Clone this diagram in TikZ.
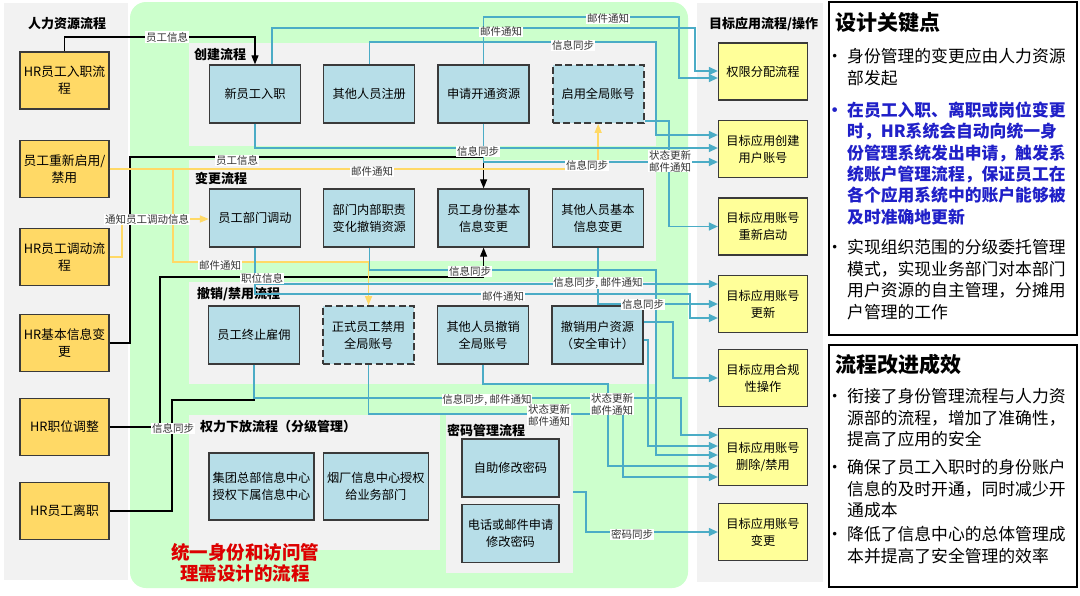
\documentclass[tikz,border=0pt]{standalone}
\usepackage{fontspec}
\setmainfont{Noto Sans CJK SC}
\usepackage{xcolor}
\usetikzlibrary{arrows.meta,positioning,calc}
\definecolor{hrgold}{HTML}{FFD966}
\definecolor{appyellow}{HTML}{FFFF99}
\definecolor{procblue}{HTML}{B7DEE8}
\definecolor{linkblue}{HTML}{4BACC6}
\definecolor{zonegreen}{HTML}{CCFFCC}
\definecolor{panelgray}{HTML}{F2F2F2}
\definecolor{edgegray}{HTML}{3A3A3A}
\definecolor{keyblue}{HTML}{2020C8}
\definecolor{titlered}{HTML}{DD0000}
\tikzset{
    hrbox/.style={rectangle, draw=edgegray, fill=hrgold, line width=1.3pt,
        minimum width=89pt, minimum height=57pt, inner sep=1pt,
        align=center, font=\fontsize{12.8}{17}\selectfont},
    procbox/.style={rectangle, draw=edgegray, fill=procblue, line width=1.3pt,
        minimum width=91pt, minimum height=58pt, inner sep=1pt,
        align=center, font=\fontsize{12.2}{17}\selectfont},
    globalbox/.style={procbox, dash pattern=on 7pt off 3.5pt, line width=1.8pt},
    appbox/.style={rectangle, draw=edgegray, fill=appyellow, line width=1.3pt,
        minimum width=89pt, minimum height=57pt, inner sep=1pt,
        align=center, font=\fontsize{12.2}{17}\selectfont},
    zonetitle/.style={anchor=west, inner sep=0pt, font=\fontsize{13}{15}\selectfont\bfseries},
    bluelink/.style={draw=linkblue, line width=1.3pt},
    bluearrow/.style={bluelink, -{Triangle[length=9pt,width=8pt]}},
    goldlink/.style={draw=hrgold, line width=1.4pt},
    goldarrow/.style={goldlink, -{Triangle[length=9pt,width=7pt]}},
    blacklink/.style={draw=black, line width=1.1pt},
    blackarrow/.style={blacklink, -{Triangle[length=9pt,width=7pt]}},
    linklabel/.style={fill=white, inner sep=0.6pt, align=center, text=black!80,
        font=\fontsize{10.5}{12}\selectfont},
    notetitle/.style={anchor=west, inner sep=0pt, font=\fontsize{21}{24}\selectfont\bfseries},
    notetext/.style={anchor=north west, inner sep=0pt, text width=228pt, align=left,
        font=\fontsize{16.8}{21.4}\selectfont},
}
\newcommand{\notedot}{\llap{•\hspace{4pt}}}

\begin{document}
\begin{tikzpicture}[x=1pt, y=-1pt, node distance=22pt]

    % ── Canvas ─────────────────────────────────────────────────────────────
    \useasboundingbox (0,0) rectangle (1080,595);
    \fill[white] (0,0) rectangle (1080,595);

    % ── Columns and process zones ──────────────────────────────────────────
    \fill[panelgray] (4,3) rectangle (128,580);
    \fill[panelgray] (697,3) rectangle (823,582);
    \fill[zonegreen, rounded corners=16pt] (130,2) rectangle (688,588);
    \fill[panelgray] (189,43) rectangle (656,146);
    \fill[panelgray] (189,160) rectangle (656,261);
    \fill[panelgray] (189,282) rectangle (656,384);
    \fill[panelgray] (189,415) rectangle (440,550);
    \fill[panelgray] (446,415) rectangle (573,573);
    \coordinate (pwdout) at (573,492);

    \node[zonetitle] (hrtitle) at (28,24) {人力资源流程};
    \node[zonetitle] (apptitle) at (709,24) {目标应用流程/操作};
    \node[zonetitle] (createtitle) at (194,55) {创建流程};
    \node[zonetitle] (changetitle) at (195,178) {变更流程};
    \node[zonetitle] (revoketitle) at (197,294) {撤销/禁用流程};
    \node[zonetitle] (delegtitle) at (200,427) {权力下放流程（分级管理）};
    \node[zonetitle] (pwdtitle) at (447,430) {密码管理流程};
    \node[font=\fontsize{18.5}{21.5}\selectfont\bfseries, text=titlered, align=center]
        (zonename) at (245,563) {统一身份和访问管\\理需设计的流程};

    % ── HR processes ───────────────────────────────────────────────────────
    \node[hrbox] (hrjoin)   at (64.5,80.5) {HR员工入职流\\程};
    \node[hrbox] (reenable) at (64.5,169)  {员工重新启用/\\禁用};
    \node[hrbox] (hrmove)   at (64.5,257)  {HR员工调动流\\程};
    \node[hrbox] (hrbasic)  at (64.5,343)  {HR基本信息变\\更};
    \node[hrbox] (hrpos)    at (64.5,427)  {HR职位调整};
    \node[hrbox] (hrleave)  at (64.5,511)  {HR员工离职};

    % ── Create ─────────────────────────────────────────────────────────────
    \node[procbox] (nstart) at (255,94) {新员工入职};
    \node[procbox, right=of nstart] (otherreg) {其他人员注册};
    \node[procbox, right=of otherreg] (apply) {申请开通资源};
    \node[globalbox, right=of apply] (enable) {启用全局账号};

    % ── Change ─────────────────────────────────────────────────────────────
    \node[procbox] (dept) at (255,218) {员工部门调动};
    \node[procbox, right=of dept] (dutychg) {部门内部职责\\变化撤销资源};
    \node[procbox, right=of dutychg] (idinfo) {员工身份基本\\信息变更};
    \node[procbox, right=of idinfo] (othinfo) {其他人员基本\\信息变更};

    % ── Revoke / disable ───────────────────────────────────────────────────
    \node[procbox] (term) at (254,335) {员工终止雇佣};
    \node[globalbox, right=of term] (fdisable) {正式员工禁用\\全局账号};
    \node[procbox, right=of fdisable] (orevoke) {其他人员撤销\\全局账号};
    \node[procbox, right=of orevoke] (revres) {撤销用户资源\\（安全审计）};

    % ── Delegation and password ────────────────────────────────────────────
    \node[procbox, minimum width=105pt, minimum height=67pt] (groupauth) at (261.5,486.5)
        {集团总部信息中心\\授权下属信息中心};
    \node[procbox, minimum width=105pt, minimum height=67pt, right=8pt of groupauth] (plantauth)
        {烟厂信息中心授权\\给业务部门};
    \node[procbox, minimum width=97pt] (selfpwd) at (510.5,468) {自助修改密码};
    \node[procbox, minimum width=97pt, below=6pt of selfpwd] (askpwd) {电话或邮件申请\\修改密码};

    % ── Target applications ────────────────────────────────────────────────
    \node[appbox] (perm)    at (763,71.5)  {权限分配流程};
    \node[appbox] (create)  at (763,149)   {目标应用创建\\用户账号};
    \node[appbox] (restart) at (763,226.5) {目标应用账号\\重新启动};
    \node[appbox] (upd)     at (763,304)   {目标应用账号\\更新};
    \node[appbox] (comp)    at (763,378)   {目标应用合规\\性操作};
    \node[appbox] (del)     at (763,457)   {目标应用账号\\删除/禁用};
    \node[appbox] (change)  at (763,532)   {目标应用账号\\变更};

    % ── HR links ───────────────────────────────────────────────────────────
    \draw[blackarrow] (hrjoin.north) |- (nstart.north |- 0,37) -- (nstart.north);
    \draw[blackarrow] (hrbasic.east) -| (130,157) -- (idinfo.north |- 0,157) -- (idinfo.north);
    \draw[blackarrow] (hrpos.east) -| (160,277) -- (idinfo.south |- 0,277) -- (idinfo.south);
    \draw[blacklink]  (hrleave.east) -| (172,400) -- (term.south |- 0,400) -- (term.south);
    \draw[goldarrow]  (reenable.east) -- (enable.south |- 0,169) -- (enable.south);
    \draw[goldarrow]  (reenable.east) -| (173,262) -- (fdisable.north |- 0,262) -- (fdisable.north);
    \draw[goldarrow]  (hrmove.east) -| (122,219) -- (dept.west |- 0,219);

    % ── Links to target applications ───────────────────────────────────────
    \draw[bluearrow] ([xshift=17pt]nstart.north) |- (695,28) |- (perm.west |- 0,71);
    \draw[bluearrow] (apply.north) |- (679,17) |- (perm.west |- 0,78);
    \draw[bluearrow] (otherreg.north) |- (656,42) |- (create.west |- 0,135);
    \draw[bluearrow] (nstart.south) |- (create.west |- 0,148);
    \draw[bluearrow] (apply.south) |- (create.west |- 0,162);
    \draw[bluearrow] (enable.east |- 0,121) -- (669,121) |- (restart.west);
    \draw[bluearrow] (dept.south) |- (upd.west |- 0,284);
    \draw[bluearrow] (dept.south) |- (690,294) |- (upd.west |- 0,318);
    \draw[bluearrow] (othinfo.south) |- (upd.west |- 0,304);
    \draw[bluearrow] (dutychg.south) |- (656,270) |- (del.west |- 0,455);
    \draw[bluearrow] (revres.east |- 0,322) -- (673,322) |- (comp.west);
    \draw[bluearrow] (revres.east |- 0,340) -- (648,340) |- (del.west |- 0,446);
    \draw[bluearrow] (term.south) |- (681,398) |- (del.west |- 0,435);
    \draw[bluearrow] (orevoke.south) |- (608,384) |- (del.west |- 0,466);
    \draw[bluearrow] (fdisable.south) |- (623,414) |- (del.west |- 0,477);
    \draw[bluearrow] (pwdout) -- (586,492) |- (change.west);

    % ── Link labels ────────────────────────────────────────────────────────
    \node[linklabel] (lbjoin)    at (167,37)  {员工信息};
    \node[linklabel] (lbmail1)   at (501,32)  {邮件通知};
    \node[linklabel] (lbmail2)   at (608,19)  {邮件通知};
    \node[linklabel] (lbsync1)   at (573,45)  {信息同步};
    \node[linklabel] (lbsync2)   at (478,151) {信息同步};
    \node[linklabel] (lbbasic)   at (237,160) {员工信息};
    \node[linklabel] (lbsync3)   at (587,165) {信息同步};
    \node[linklabel] (lbmail3)   at (372,172) {邮件通知};
    \node[linklabel] (lbstate1)  at (670,161) {状态更新\\邮件通知};
    \node[linklabel] (lbmove)    at (147,219) {通知员工调动信息};
    \node[linklabel] (lbmail4)   at (220,265) {邮件通知};
    \node[linklabel] (lbsync4)   at (470,271) {信息同步};
    \node[linklabel] (lbpos)     at (262,278) {职位信息};
    \node[linklabel] (lbsync5)   at (598,283) {信息同步, 邮件通知};
    \node[linklabel] (lbmail5)   at (503,296) {邮件通知};
    \node[linklabel] (lbsync6)   at (643,304) {信息同步};
    \node[linklabel] (lbsync7)   at (487,400) {信息同步, 邮件通知};
    \node[linklabel] (lbstate2)  at (612,404) {状态更新\\邮件通知};
    \node[linklabel] (lbstate3)  at (549,415) {状态更新\\邮件通知};
    \node[linklabel] (lbsync8)   at (173,428) {信息同步};
    \node[linklabel] (lbpwd)     at (632,534) {密码同步};

    % ── Design notes ───────────────────────────────────────────────────────
    \draw[line width=1.3pt, fill=white] (829,2) rectangle (1077,335);
    \node[notetitle] (keytitle) at (835,23) {设计关键点};
    \node[notetext] (key1) at (847,48.5)
        {\notedot 身份管理的变更应由人力资源\\部发起};
    \node[notetext, text=keyblue, font=\fontsize{16.8}{21.4}\selectfont\bfseries] (key2) at (847,101.5)
        {\notedot 在员工入职、离职或岗位变更\\时，HR系统会自动向统一身\\份管理系统发出申请，触发系\\统账户管理流程，保证员工在\\各个应用系统中的账户能够被\\及时准确地更新};
    \node[notetext] (key3) at (847,239.5)
        {\notedot 实现组织范围的分级委托管理\\模式，实现业务部门对本部门\\用户资源的自主管理，分摊用\\户管理的工作};

    \draw[line width=1.3pt, fill=white] (829,345) rectangle (1077,587);
    \node[notetitle] (gaintitle) at (835,364) {流程改进成效};
    \node[notetext] (gain1) at (847,388.5)
        {\notedot 衔接了身份管理流程与人力资\\源部的流程，增加了准确性，\\提高了应用的安全};
    \node[notetext] (gain2) at (847,459.5)
        {\notedot 确保了员工入职时的身份账户\\信息的及时开通，同时减少开\\通成本};
    \node[notetext] (gain3) at (847,526.5)
        {\notedot 降低了信息中心的总体管理成\\本并提高了安全管理的效率};

\end{tikzpicture}
\end{document}
